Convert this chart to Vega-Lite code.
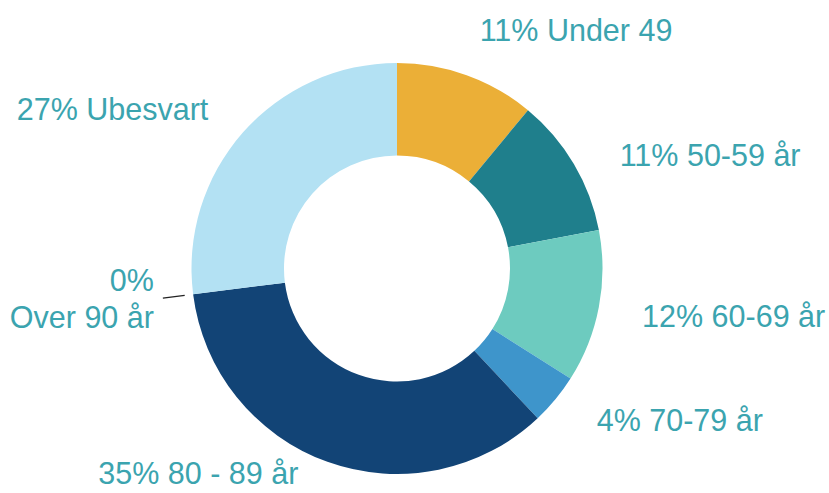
{
  "$schema": "https://vega.github.io/schema/vega-lite/v6.json",
  "width": 794,
  "height": 449,
  "autosize": {"type": "none"},
  "padding": {"left": 0, "top": 44, "right": 35, "bottom": 0},
  "background": "white",
  "config": {"view": {"stroke": null}, "text": {"font": "Liberation Sans", "fontSize": 30.5, "color": "#3BA4AF", "baseline": "middle"}},
  "data": {
    "values": [
      {"i": 1, "cat": "Under 49", "value": 11, "label": "11% Under 49"},
      {"i": 2, "cat": "50-59 år", "value": 11, "label": "11% 50-59 år"},
      {"i": 3, "cat": "60-69 år", "value": 12, "label": "12% 60-69 år"},
      {"i": 4, "cat": "70-79 år", "value": 4, "label": "4% 70-79 år"},
      {"i": 5, "cat": "80 - 89 år", "value": 35, "label": "35% 80 - 89 år"},
      {"i": 6, "cat": "Over 90 år", "value": 0, "label": "0%\nOver 90 år"},
      {"i": 7, "cat": "Ubesvart", "value": 27, "label": "27% Ubesvart"}
    ]
  },
  "encoding": {
    "theta": {"field": "value", "type": "quantitative", "stack": true},
    "order": {"field": "i", "type": "quantitative"},
    "detail": {"field": "cat", "type": "nominal"}
  },
  "layer": [
    {
      "mark": {"type": "arc", "outerRadius": 205.5, "innerRadius": 113},
      "encoding": {
        "color": {
          "field": "cat",
          "type": "nominal",
          "sort": null,
          "scale": {
            "domain": ["Under 49", "50-59 år", "60-69 år", "70-79 år", "80 - 89 år", "Over 90 år", "Ubesvart"],
            "range": ["#EBAF37", "#1F7F8C", "#6DCBBF", "#3E95CB", "#124476", "#124476", "#B3E1F3"]
          },
          "legend": null
        }
      }
    },
    {
      "mark": {"type": "arc", "outerRadius": 236, "innerRadius": 214, "fillOpacity": 0, "stroke": "#222222"},
      "encoding": {
        "strokeWidth": {
          "condition": {"test": "datum.cat == 'Over 90 år'", "value": 1.3},
          "value": 0
        }
      }
    },
    {
      "mark": {"type": "text", "radius": 251, "thetaOffset": -0.01, "align": "left"},
      "encoding": {
        "text": {"condition": {"test": "datum.cat == 'Under 49'", "field": "label"}, "value": ""}
      }
    },
    {
      "mark": {"type": "text", "radius": 249, "thetaOffset": 0.07, "align": "left"},
      "encoding": {
        "text": {"condition": {"test": "datum.cat == '50-59 år'", "field": "label"}, "value": ""}
      }
    },
    {
      "mark": {"type": "text", "radius": 250, "thetaOffset": 0.01, "align": "left"},
      "encoding": {
        "text": {"condition": {"test": "datum.cat == '60-69 år'", "field": "label"}, "value": ""}
      }
    },
    {
      "mark": {"type": "text", "radius": 252, "thetaOffset": -0.035, "align": "left"},
      "encoding": {
        "text": {"condition": {"test": "datum.cat == '70-79 år'", "field": "label"}, "value": ""}
      }
    },
    {
      "mark": {"type": "text", "radius": 229, "thetaOffset": 0.1, "align": "right"},
      "encoding": {
        "text": {"condition": {"test": "datum.cat == '80 - 89 år'", "field": "label"}, "value": ""}
      }
    },
    {
      "mark": {"type": "text", "radius": 245, "align": "right", "dy": -17, "lineBreak": "\n", "lineHeight": 37},
      "encoding": {
        "text": {"condition": {"test": "datum.cat == 'Over 90 år'", "field": "label"}, "value": ""}
      }
    },
    {
      "mark": {"type": "text", "radius": 246, "thetaOffset": -0.026, "align": "right"},
      "encoding": {
        "text": {"condition": {"test": "datum.cat == 'Ubesvart'", "field": "label"}, "value": ""}
      }
    }
  ]
}
